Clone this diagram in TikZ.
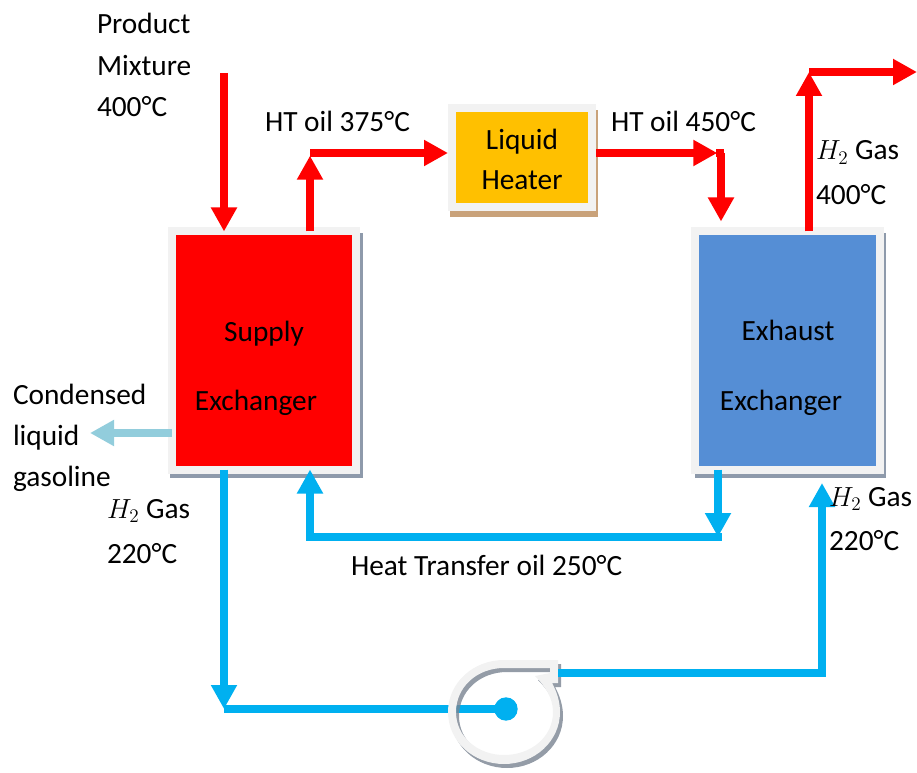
\documentclass[tikz,border=0pt]{standalone}
\usepackage{fontspec}
\setmainfont{Carlito}
\usetikzlibrary{arrows.meta}
\definecolor{hotred}{HTML}{FF0000}
\definecolor{coolblue}{HTML}{00B0F0}
\definecolor{condblue}{HTML}{92CDDC}
\definecolor{framegray}{HTML}{F2F2F2}
\definecolor{shadowgray}{HTML}{8E9AAB}
\definecolor{heaterfill}{HTML}{FFC000}
\definecolor{heatershadow}{HTML}{C9A27A}
\definecolor{exhaustfill}{HTML}{558ED5}
\newcommand{\degC}{°C}
\newcommand{\voluteoutline}{(558,660) -- (504,660) .. controls (473,660) and (448,683) .. (448,712) .. controls (448,741) and (473,764) .. (504,764) .. controls (535,764) and (560,741) .. (560,712) .. controls (560,702) and (557,692) .. (552,683) -- (558,683) -- cycle
 (550,668) -- (504,668) .. controls (477,668) and (456,687) .. (456,712) .. controls (456,737) and (478,755) .. (504,755) .. controls (531,755) and (553,737) .. (553,712) .. controls (553,698) and (545,686) .. (535,676) -- (550,673) -- cycle}
\tikzset{
  x=0.75pt,y=-0.75pt,
  flow/.style={line width=5.6pt,-{Triangle[length=18pt,width=18.5pt]}},
  plainflow/.style={line width=5.6pt},
  redflow/.style={flow,draw=hotred},
  blueflow/.style={flow,draw=coolblue},
  unit/.style={draw=framegray,line width=6pt,inner sep=0pt,outer sep=0pt},
  lbl/.style={anchor=base west,inner sep=0pt,outer sep=0pt,font=\fontsize{22}{26}\selectfont,text=black},
  mid/.style={lbl,anchor=base},
}
\begin{document}
\begin{tikzpicture}
\useasboundingbox (0,0) rectangle (917,773);
% unit shadows
\fill[shadowgray] (170,233) rectangle (363,478);
\fill[shadowgray] (695,233) rectangle (886,478);
\fill[heatershadow] (450,110) rectangle (598,217);
% units
\node[unit,fill=hotred,minimum width=138pt,minimum height=178.5pt] (supply) at (264,350.5) {};
\node[unit,fill=exhaustfill,minimum width=138.75pt,minimum height=178.5pt] (exhaust) at (787.5,350.5) {};
\node[unit,fill=heaterfill,minimum width=105pt,minimum height=74.6pt] (heater) at (522,157.3) {};
% named points
\coordinate (feed) at (224,73);
\coordinate (oilup) at (310,153);
\coordinate (oildown) at (720,153);
\coordinate (gasup) at (809,72);
\coordinate (gasout) at (917,72);
\coordinate (condout) at (90,433);
\coordinate (retA) at (718,537);
\coordinate (retB) at (310,537);
\coordinate (h2corner) at (224,709);
\coordinate (pumpout) at (558,673);
\coordinate (h2cornerB) at (822,673);
\coordinate (impin) at (506,709);
\coordinate (h2end) at (822,483);
% red connectors
\draw[redflow] (feed) -- (feed |- supply.north);
\draw[redflow,shorten >=2pt] (supply.north -| oilup) -- (oilup);
\draw[redflow,shorten >=3pt] (oilup) -- (oilup -| heater.west);
\draw[redflow,shorten <=3pt,shorten >=2pt] (oildown -| heater.east) -- (oildown);
\draw[plainflow,draw=hotred,line cap=rect,shorten >=1pt] (oildown) -- ++(0,2);
\draw[redflow,shorten >=7.5pt] ([xshift=0.75pt]oildown) -- ([xshift=0.75pt]oildown |- exhaust.north);
\draw[redflow] (exhaust.north -| gasup) -- (gasup);
\draw[redflow] (gasup) -- (gasout);
% condensate
\draw[flow,draw=condblue] (supply.west |- condout) -- (condout);
% blue connectors
\draw[blueflow] (supply.south -| h2corner) -- (h2corner);
\draw[plainflow,draw=coolblue] (h2corner) -- (impin);
\draw[blueflow] (exhaust.south -| retA) -- (retA);
\draw[plainflow,draw=coolblue,line cap=rect] (retA) -- (retB);
\draw[blueflow] (retB) -- (retB |- supply.south);
% volute
\fill[shadowgray!85!black,opacity=.8,even odd rule,shift={(3,4)}] \voluteoutline;
\fill[framegray,even odd rule] \voluteoutline;
\node[circle,fill=coolblue,minimum size=17.5pt,inner sep=0pt] (impeller) at (impin) {};
\draw[plainflow,draw=coolblue] (pumpout) -- (h2cornerB);
\draw[plainflow,draw=coolblue,line cap=rect] (h2cornerB) -- ++(0,-1);
\draw[blueflow] (h2cornerB) -- (h2end);
% labels
\node[lbl] (t1) at (97,34) {Product};
\node[lbl] (t2) at (97,76) {Mixture};
\node[lbl] (t3) at (97,117) {400\degC};
\node[lbl] (t4) at (265,132) {HT oil 375\degC};
\node[lbl] (t5) at (611,132) {HT oil 450\degC};
\node[mid] (t6) at (522,150) {Liquid};
\node[mid] (t7) at (522,190) {Heater};
\node[mid] (t8) at (264,342) {Supply};
\node[mid] (t9) at (256,410) {Exchanger};
\node[mid] (t10) at (788,341) {Exhaust};
\node[mid] (t11) at (781,410) {Exchanger};
\node[lbl] (t12) at (13,404) {Condensed};
\node[lbl] (t13) at (13,445) {liquid};
\node[lbl] (t14) at (13,486) {gasoline};
\node[lbl] (t15) at (107,518) {$H_2$ Gas};
\node[lbl] (t16) at (107,563) {220\degC};
\node[lbl] (t17) at (351,575) {Heat Transfer oil 250\degC};
\node[lbl] (t18) at (816,160) {$H_2$ Gas};
\node[lbl] (t19) at (816,205) {400\degC};
\node[lbl] (t20) at (829,506) {$H_2$ Gas};
\node[lbl] (t21) at (829,550) {220\degC};
\end{tikzpicture}
\end{document}
